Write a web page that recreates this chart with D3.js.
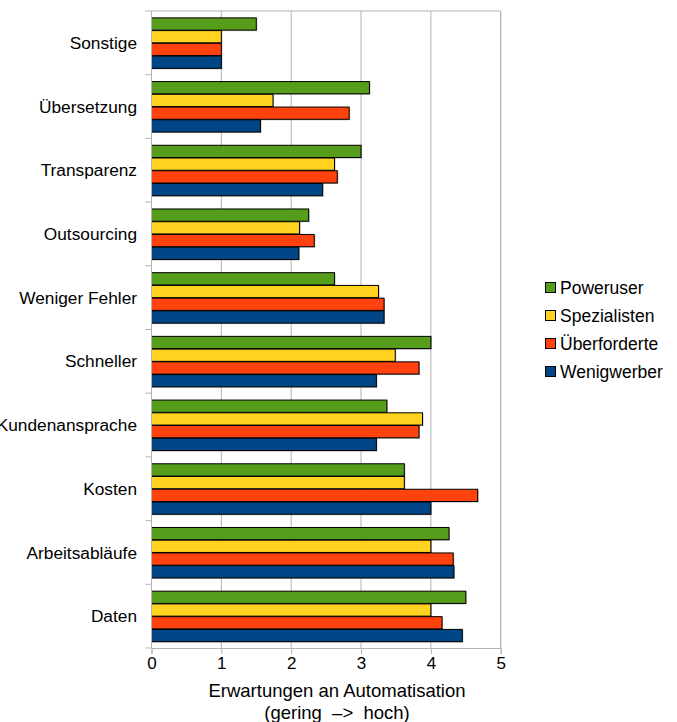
<!DOCTYPE html>
<html><head><meta charset="utf-8">
<script src="https://cdn.jsdelivr.net/npm/d3@7"></script>
<style>body{margin:0;background:#fff}svg{display:block}text{font-family:"Liberation Sans",Arial,sans-serif;fill:#000}</style>
</head><body><svg id="c" width="677" height="722"></svg>
<script>
const categories = ["Sonstige","Übersetzung","Transparenz","Outsourcing","Weniger Fehler","Schneller","Kundenansprache","Kosten","Arbeitsabläufe","Daten"];
const seriesNames = ["Poweruser","Spezialisten","Überforderte","Wenigwerber"];
const seriesColors = ["#579D1C","#FFD320","#FF420E","#004586"];
const poweruser    = [1.50,3.12,3.00,2.25,2.62,4.00,3.37,3.62,4.26,4.50];
const spezialisten = [1.00,1.74,2.62,2.12,3.25,3.49,3.88,3.62,4.00,4.00];
const ueberforderte= [1.00,2.83,2.66,2.33,3.33,3.83,3.83,4.67,4.32,4.16];
const wenigwerber  = [1.00,1.56,2.45,2.11,3.33,3.22,3.22,4.00,4.33,4.45];
const xTicks = [0,1,2,3,4,5];
const seriesValues = [poweruser,spezialisten,ueberforderte,wenigwerber];

const svg = d3.select("#c");
const L=151.5, R=500.7, T=11, B=648;
const x = d3.scaleLinear().domain([0,5]).range([L,R]);
const y = d3.scaleBand().domain(categories).range([T,B]).paddingInner(0.2).paddingOuter(0.1);
const ys = d3.scaleBand().domain(seriesNames).range([0,y.bandwidth()]);

// grid
svg.append("g").selectAll("line").data(xTicks.slice(1)).join("line")
  .attr("x1",d=>x(d)).attr("x2",d=>x(d)).attr("y1",T).attr("y2",B)
  .attr("stroke","#b3b3b3").attr("stroke-width",1);
svg.append("line").attr("x1",L).attr("x2",R).attr("y1",T).attr("y2",T).attr("stroke","#b3b3b3");

// bars
const g = svg.append("g");
categories.forEach((c,i)=>{
  seriesNames.forEach((s,j)=>{
    const v = seriesValues[j][i];
    const yy = y(c)+ys(s);
    g.append("rect").attr("x",x(0)+1).attr("y",yy+1).attr("width",x(v)-x(0)).attr("height",ys.bandwidth())
      .attr("fill","#808080").attr("opacity",0.6);
  });
});
categories.forEach((c,i)=>{
  seriesNames.forEach((s,j)=>{
    const v = seriesValues[j][i];
    const yy = y(c)+ys(s);
    g.append("rect").attr("x",x(0)).attr("y",yy+0.5).attr("width",x(v)-x(0)).attr("height",ys.bandwidth()-0.5)
      .attr("fill",seriesColors[j]).attr("stroke","#000").attr("stroke-width",1);
  });
});

// axes
const xAxis = d3.axisBottom(x).tickValues(xTicks).tickSize(6).tickPadding(3).tickFormat(d3.format("d"));
const xg = svg.append("g").attr("transform",`translate(0,${B})`).call(xAxis);
xg.select(".domain").attr("stroke","#b3b3b3");
xg.selectAll(".tick line").attr("stroke","#b3b3b3");
xg.selectAll("text").style("font-size","17px").style("font-family","Liberation Sans, Arial, sans-serif").attr("fill","#000");

const yBounds = categories.map(c=>y(c)-y.step()*y.paddingInner()/2).concat([B]);
svg.append("g").selectAll("line").data(yBounds).join("line")
  .attr("x1",L-6).attr("x2",L).attr("y1",d=>d).attr("y2",d=>d).attr("stroke","#b3b3b3");
svg.append("line").attr("x1",L).attr("x2",L).attr("y1",T).attr("y2",B).attr("stroke","#b3b3b3");
svg.append("line").attr("x1",R).attr("x2",R).attr("y1",T).attr("y2",B).attr("stroke","#b3b3b3");

svg.append("g").selectAll("text").data(categories).join("text")
  .attr("x",137).attr("y",d=>y(d)+y.bandwidth()/2).attr("dy","0.35em")
  .attr("text-anchor","end").style("font-size","17.3px").text(d=>d);

svg.append("text").attr("x",337).attr("y",697).attr("text-anchor","middle").style("font-size","18.5px").attr("fill","#333").text("Erwartungen an Automatisation");
svg.append("text").attr("x",337).attr("y",719).attr("text-anchor","middle").style("font-size","18.5px").style("white-space","pre").attr("fill","#333").text("(gering  –>  hoch)");

// legend
const lg = svg.append("g");
seriesNames.forEach((s,j)=>{
  const ly = 288 + j*28;
  lg.append("rect").attr("x",545.5).attr("y",ly-5.5).attr("width",10).attr("height",10)
    .attr("fill",seriesColors[j]).attr("stroke","#000");
  lg.append("text").attr("x",560).attr("y",ly).attr("dy","0.35em").style("font-size","17.5px").text(s);
});
</script></body></html>
